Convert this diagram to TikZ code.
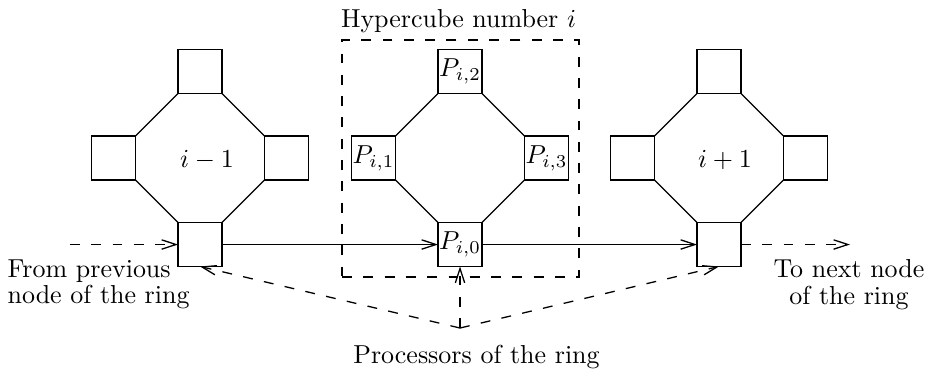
\documentclass[tikz,border=0pt]{standalone}
\usepackage{amsmath,amssymb}
\usepackage{tikz}
\usetikzlibrary{arrows.meta,positioning,calc}

\begin{document}
\begin{tikzpicture}[
				x=0.385pt,y=-0.385pt,line width=0.5pt,
				proc/.style={draw,minimum size=16.9pt,inner sep=0pt,outer sep=0pt},
				lbl/.style={inner sep=0pt,font=\normalsize},
				frame/.style={draw,dashed,dash pattern=on 3.8pt off 4.4pt,minimum size=91.2pt,inner sep=0pt},
				ring/.style={-{Straight Barb[length=5.5pt,width=3.6pt]}},
				ringdash/.style={ring,dash pattern=on 3.8pt off 4.4pt}
				]
				\useasboundingbox (0,0) rectangle (932,370);
				
				% hypercube i-1
				\node[proc] (l2) at (200,71.5) {};
				\node[proc] (l1) at (113.5,158) {};
				\node[proc] (l3) at (286.5,158) {};
				\node[proc] (l0) at (200,244.5) {};
				\node[lbl] (lname) at (207,160) {$i-1$};
				\draw (l2.south west)--(l1.north east);
				\draw (l1.south east)--(l0.north west);
				\draw (l0.north east)--(l3.south west);
				\draw (l3.north west)--(l2.south east);
				
				% hypercube i
				\node[frame] (cube) at (460.5,158.5) {};
				\node[lbl,anchor=base] (title) at (458.5,27) {Hypercube number $i$};
				\node[proc] (c2) at (460,71.5) {$P_{i,2}$};
				\node[proc] (c1) at (373.5,158) {$P_{i,1}$};
				\node[proc] (c3) at (546.5,158) {$P_{i,3}$};
				\node[proc] (c0) at (460,244.5) {$P_{i,0}$};
				\draw (c2.south west)--(c1.north east);
				\draw (c1.south east)--(c0.north west);
				\draw (c0.north east)--(c3.south west);
				\draw (c3.north west)--(c2.south east);
				
				% hypercube i+1
				\node[proc] (r2) at (719,71.5) {};
				\node[proc] (r1) at (632.5,158) {};
				\node[proc] (r3) at (805.5,158) {};
				\node[proc] (r0) at (719,244.5) {};
				\node[lbl] (rname) at (725,160) {$i+1$};
				\draw (r2.south west)--(r1.north east);
				\draw (r1.south east)--(r0.north west);
				\draw (r0.north east)--(r3.south west);
				\draw (r3.north west)--(r2.south east);
				
				% the ring
				\coordinate (prev) at (70,244.5);
				\coordinate (next) at (850,244.5);
				\draw[ringdash] (prev)--(l0);
				\draw[ring] (l0)--(c0);
				\draw[ring] (c0)--(r0);
				\draw[ringdash] (r0)--(next);
				\node[lbl,anchor=north west,align=left] (from) at (7,259) {From previous\\[-1.8pt]node of the ring};
				\node[lbl,anchor=north,align=center] (to) at (849,259) {To next node\\[-1.8pt]of the ring};
				
				% processors of the ring
				\coordinate (procs) at (460,328);
				\draw[ringdash] (procs)--(l0.south);
				\draw[ringdash] (procs)--(c0.south);
				\draw[ringdash] (procs)--(r0.south);
				\node[lbl,anchor=base] (plabel) at (476.5,363) {Processors of the ring};
			\end{tikzpicture}
\end{document}
